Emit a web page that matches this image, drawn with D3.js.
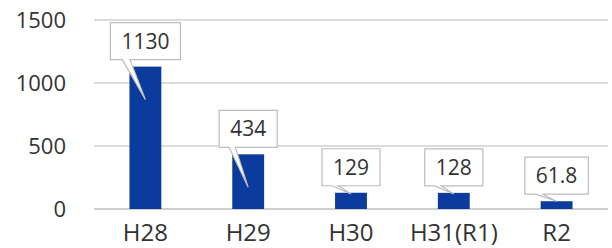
<!DOCTYPE html>
<html><head><meta charset="utf-8">
<script src="https://cdn.jsdelivr.net/npm/d3@7"></script>
<style>html,body{margin:0;padding:0;background:#fff;}svg{display:block;}</style>
</head><body>
<svg id="c" width="612" height="248"></svg>
<script>
const categories = ["H28", "H29", "H30", "H31(R1)", "R2"];
const values = [1130, 434, 129, 128, 61.8];
const valueLabels = ["1130", "434", "129", "128", "61.8"];
const yTicks = [0, 500, 1000, 1500];

const svg = d3.select("#c");
const font = "'Open Sans', 'Noto Sans', sans-serif";
const textColor = "#333333";
const x = d3.scaleBand().domain(categories).range([94, 608]).paddingInner(0.69).paddingOuter(0.345);
const y = d3.scaleLinear().domain([0, 1500]).range([209, 20]);

// gridlines
svg.append("g").selectAll("line").data(yTicks).join("line")
  .attr("x1", 94).attr("x2", 608)
  .attr("y1", d => y(d)).attr("y2", d => y(d))
  .attr("stroke", d => d === 0 ? "#cfcfcf" : "#dcdcdc").attr("stroke-width", 2);

// y tick labels
svg.append("g").selectAll("text").data(yTicks).join("text")
  .attr("x", 66).attr("y", d => y(d)).attr("dy", "0.36em")
  .attr("text-anchor", "end").attr("font-family", font).attr("font-size", 22)
  .attr("fill", textColor).text(d => d);

// bars
svg.append("g").selectAll("rect").data(values).join("rect")
  .attr("x", (d, i) => x(categories[i])).attr("width", x.bandwidth())
  .attr("y", d => y(d)).attr("height", d => y(0) - y(d))
  .attr("fill", "#0b3b9d");

// x labels
svg.append("g").selectAll("text").data(categories).join("text")
  .attr("x", d => x(d) + x.bandwidth() / 2).attr("y", 241)
  .attr("text-anchor", "middle").attr("font-family", font).attr("font-size", 24)
  .attr("fill", textColor).text(d => d);

// callout labels
const lg = svg.append("g");
values.forEach((v, i) => {
  const cx = x(categories[i]) + x.bandwidth() / 2;
  const top = y(v);
  const h = y(0) - top;
  const boxH = 37;
  const bottom = top - 7;
  const t = lg.append("text").attr("font-family", font).attr("font-size", 21)
    .attr("fill", textColor).attr("text-anchor", "middle")
    .attr("x", cx).attr("y", bottom - boxH / 2).attr("dy", "0.36em").text(valueLabels[i]);
  const tw = t.node().getComputedTextLength();
  const w = tw + 22;
  const left = cx - w / 2;
  const tipY = top + Math.min(33, Math.max(0, h - 15));
  const b1 = left + w * 0.17, b2 = left + w * 0.28;
  const path = d3.path();
  path.moveTo(left, bottom - boxH);
  path.lineTo(left + w, bottom - boxH);
  path.lineTo(left + w, bottom);
  path.lineTo(b2, bottom);
  path.lineTo(cx, tipY);
  path.lineTo(b1, bottom);
  path.lineTo(left, bottom);
  path.closePath();
  lg.insert("path", "text").attr("d", path.toString()).attr("fill", "#fff")
    .attr("stroke", "#bdbdbd").attr("stroke-width", 1.2);
  t.raise();
});
</script>
</body></html>
